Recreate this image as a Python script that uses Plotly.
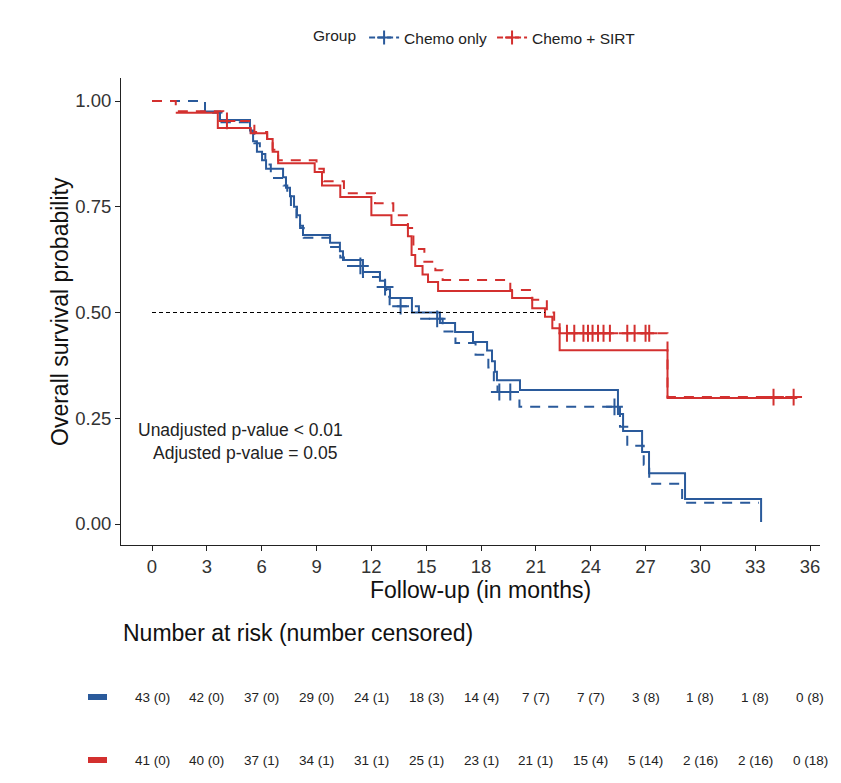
import numpy as np
import plotly.graph_objects as go

# ---------------- data ----------------
groups = ["Chemo only", "Chemo + SIRT"]
colors = {"Chemo only": "#2A5A9B", "Chemo + SIRT": "#D3302F"}

# unadjusted (solid) Kaplan-Meier steps
chemo_km_t = [2.63, 3.72, 5.36, 5.53, 5.74, 6.02, 6.24, 7.17, 7.33, 7.55, 7.77, 7.93, 8.10, 8.26,
              9.74, 10.28, 10.45, 11.54, 12.47, 12.75, 13.02, 14.22, 15.75, 16.58, 17.56, 18.33,
              18.60, 18.76, 18.87, 20.13, 25.49, 25.77, 26.81, 27.19, 29.16, 33.32]
chemo_km_s = [0.975, 0.955, 0.93, 0.905, 0.88, 0.86, 0.84, 0.82, 0.795, 0.775, 0.75, 0.73, 0.705, 0.683,
              0.665, 0.645, 0.624, 0.596, 0.575, 0.555, 0.534, 0.50, 0.475, 0.454, 0.43, 0.41,
              0.385, 0.36, 0.34, 0.317, 0.26, 0.22, 0.17, 0.12, 0.059, 0.005]

sirt_km_t = [1.3, 3.6, 5.4, 6.3, 6.6, 6.9, 8.9, 9.3, 10.3, 12.0, 13.1, 14.0, 14.2, 14.4, 14.8, 15.1,
             15.65, 19.7, 20.8, 21.5, 21.9, 22.3, 28.2, 35.3]
sirt_km_s = [0.972, 0.936, 0.924, 0.91, 0.88, 0.853, 0.832, 0.80, 0.773, 0.73, 0.707, 0.68, 0.636,
             0.61, 0.59, 0.572, 0.551, 0.534, 0.51, 0.49, 0.463, 0.411, 0.298, 0.298]

# adjusted (dashed) curves
chemo_adj_t = [0, 2.9, 3.8, 5.4, 5.6, 5.9, 6.2, 6.5, 7.2, 7.4, 7.6, 7.9, 8.1, 8.3, 9.74, 10.3, 10.5,
               11.54, 12.47, 12.8, 13.0, 14.6, 15.9, 16.6, 17.7, 18.4, 18.7, 18.9, 20.1, 25.6, 26.0,
               26.9, 27.2, 29.0, 33.2]
chemo_adj_s = [1.0, 0.972, 0.95, 0.925, 0.90, 0.875, 0.85, 0.818, 0.80, 0.775, 0.75, 0.725, 0.70,
               0.677, 0.655, 0.63, 0.61, 0.584, 0.56, 0.537, 0.515, 0.485, 0.455, 0.428, 0.40,
               0.37, 0.34, 0.312, 0.277, 0.23, 0.185, 0.14, 0.095, 0.05, 0.05]

sirt_adj_t = [0, 1.3, 3.9, 5.6, 6.3, 6.6, 6.9, 9.0, 9.4, 10.5, 12.2, 13.2, 14.0, 14.3, 14.9, 15.5,
              15.9, 19.6, 20.8, 21.6, 22.0, 22.3, 28.2, 35.3]
sirt_adj_s = [1.0, 0.976, 0.953, 0.927, 0.91, 0.885, 0.86, 0.84, 0.81, 0.782, 0.758, 0.73, 0.70,
              0.65, 0.62, 0.60, 0.577, 0.553, 0.53, 0.50, 0.475, 0.451, 0.30, 0.30]

# censoring times
chemo_cens_t = [11.4, 12.75, 13.6, 15.6, 19.0, 19.6, 25.3]
sirt_cens_t = [4.1, 22.7, 23.1, 23.6, 23.85, 24.1, 24.4, 24.7, 25.05, 26.0, 26.4, 27.0, 27.2, 34.0, 35.1]

# risk table
risk_times = [0, 3, 6, 9, 12, 15, 18, 21, 24, 27, 30, 33, 36]
chemo_at_risk = [43, 42, 37, 29, 24, 18, 14, 7, 7, 3, 1, 1, 0]
chemo_censored = [0, 0, 0, 0, 1, 3, 4, 7, 7, 8, 8, 8, 8]
sirt_at_risk = [41, 40, 37, 34, 31, 25, 23, 21, 15, 5, 2, 2, 0]
sirt_censored = [0, 0, 1, 1, 1, 1, 1, 1, 4, 14, 16, 16, 18]

median_line_end = 21.5
y_ticks = [0, 0.25, 0.5, 0.75, 1.0]

# ---------------- figure ----------------
OFF = 8                 # page body margin
W, H = 841 - OFF, 783 - OFF
FONT = "Liberation Sans, Arial, sans-serif"


def xp(px):
    return (px - OFF) / W


def yp(py):
    return 1 - (py - OFF) / H


def step_at(ts, ss, t):
    ts = np.asarray(ts)
    ss = np.asarray(ss)
    i = np.searchsorted(ts, t, side="right") - 1
    return float(ss[max(i, 0)])


fig = go.Figure()

series = [
    ("Chemo only", chemo_km_t, chemo_km_s, chemo_adj_t, chemo_adj_s, chemo_cens_t),
    ("Chemo + SIRT", sirt_km_t, sirt_km_s, sirt_adj_t, sirt_adj_s, sirt_cens_t),
]

for name, kt, ks, at, as_, ct in series:
    c = colors[name]
    fig.add_trace(go.Scatter(x=kt, y=ks, mode="lines", line=dict(color=c, width=2, shape="hv"),
                             showlegend=False, hoverinfo="skip"))
    fig.add_trace(go.Scatter(x=at, y=as_, mode="lines",
                             line=dict(color=c, width=2, shape="hv", dash="10px,8px"),
                             showlegend=False, hoverinfo="skip"))
    cy = [step_at(at, as_, t) for t in ct]
    fig.add_trace(go.Scatter(x=ct, y=cy, mode="markers",
                             marker=dict(symbol="cross-thin", size=12, color=c,
                                         line=dict(color=c, width=2)),
                             showlegend=False, hoverinfo="skip"))

# median reference line
fig.add_trace(go.Scatter(x=[0, median_line_end], y=[0.5, 0.5], mode="lines",
                         line=dict(color="black", width=1, dash="4px,3px"),
                         showlegend=False, hoverinfo="skip"))

# legend entries
for name in groups:
    c = colors[name]
    fig.add_trace(go.Scatter(x=[None], y=[None], mode="lines+markers", name=name,
                             line=dict(color=c, width=2, dash="6px,3px"),
                             marker=dict(symbol="cross-thin", size=10, color=c,
                                         line=dict(color=c, width=2))))

# plot area in reference pixels
px_left, px_right, px_top, px_bottom = 121, 820, 78, 545
x0_px, px_per_month = 152, 18.28
y1_px, y0_px = 101, 524
xr = [(px_left - x0_px) / px_per_month, (px_right - x0_px) / px_per_month]
yr = [(y0_px - px_bottom) / (y0_px - y1_px), (y0_px - px_top) / (y0_px - y1_px)]

axis_common = dict(showgrid=False, zeroline=False, showline=True, linecolor="#222", linewidth=1,
                   ticks="outside", ticklen=5, tickcolor="#222",
                   tickfont=dict(family=FONT, size=18.5, color="#333"))

fig.update_layout(
    width=W, height=H,
    margin=dict(l=0, r=0, t=0, b=0),
    paper_bgcolor="white", plot_bgcolor="white",
    font=dict(family=FONT),
    xaxis=dict(domain=[xp(px_left), xp(px_right)], range=xr, tickvals=risk_times, **axis_common),
    yaxis=dict(domain=[yp(px_bottom), yp(px_top)], range=yr, tickvals=y_ticks,
               tickformat=".2f", **axis_common),
    legend=dict(orientation="h", x=xp(476), y=yp(38), xanchor="center", yanchor="middle",
                title=dict(text="Group", font=dict(size=15.5, color="#222")),
                font=dict(size=15.5, color="#222", family=FONT), itemwidth=30),
    showlegend=True,
)

ann = []
ann.append(dict(text="Follow-up (in months)", x=xp(480), y=yp(590), xref="paper", yref="paper",
                showarrow=False, font=dict(size=23, color="#111", family=FONT),
                xanchor="center", yanchor="middle"))
ann.append(dict(text="Overall survival probability", x=xp(60), y=yp(312), xref="paper", yref="paper",
                showarrow=False, textangle=-90, font=dict(size=23, color="#111", family=FONT),
                xanchor="center", yanchor="middle"))
ann.append(dict(text="Unadjusted p-value < 0.01", x=xp(240), y=yp(430), xref="paper", yref="paper",
                showarrow=False, font=dict(size=17.5, color="#222", family=FONT),
                xanchor="center", yanchor="middle"))
ann.append(dict(text="Adjusted p-value = 0.05", x=xp(245), y=yp(453), xref="paper", yref="paper",
                showarrow=False, font=dict(size=17.5, color="#222", family=FONT),
                xanchor="center", yanchor="middle"))
ann.append(dict(text="Number at risk (number censored)", x=xp(121), y=yp(633), xref="paper",
                yref="paper", showarrow=False, font=dict(size=23, color="#111", family=FONT),
                xanchor="left", yanchor="middle"))

RFONT = "Liberation Sans Narrow, Arial Narrow, Liberation Sans, Arial, sans-serif"
rows = [(697, chemo_at_risk, chemo_censored, colors["Chemo only"]),
        (760, sirt_at_risk, sirt_censored, colors["Chemo + SIRT"])]
shapes = []
for ypx, nr, nc, c in rows:
    for t, n, k in zip(risk_times, nr, nc):
        ann.append(dict(text=f"{n} ({k})", x=t, y=yp(ypx), xref="x", yref="paper",
                        showarrow=False, font=dict(size=13.5, color="#222", family=RFONT),
                        xanchor="center", yanchor="middle"))
    shapes.append(dict(type="rect", xref="paper", yref="paper", x0=xp(88), x1=xp(107),
                       y0=yp(ypx + 3), y1=yp(ypx - 3), fillcolor=c, line=dict(width=0)))

fig.update_layout(annotations=ann, shapes=shapes)

fig.write_html("out.html")
